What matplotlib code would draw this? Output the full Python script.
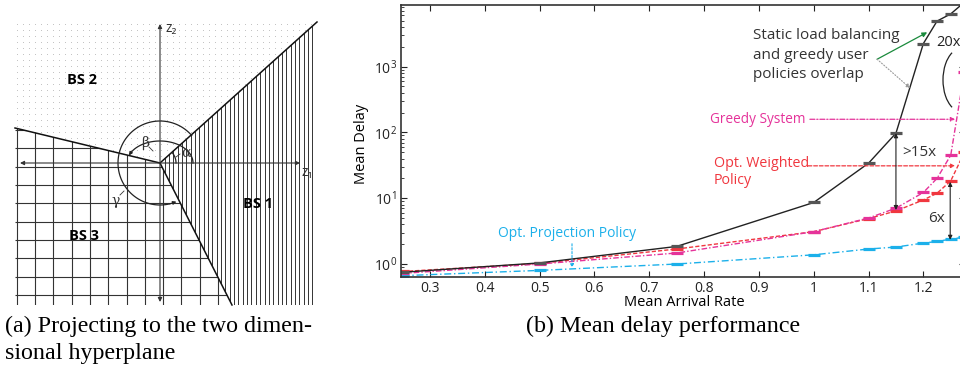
import numpy as np
import matplotlib
matplotlib.use('Agg')
import matplotlib.pyplot as plt
from matplotlib.patches import Polygon, Arc
from matplotlib.collections import LineCollection

plt.rcParams['font.family'] = ['Open Sans', 'DejaVu Sans']
plt.rcParams['mathtext.fontset'] = 'custom'
plt.rcParams['mathtext.rm'] = 'Open Sans'
plt.rcParams['mathtext.default'] = 'regular'

# ---- data for panel (b) ----
rate = [0.25, 0.5, 0.75, 1.0, 1.1, 1.15, 1.2, 1.225, 1.25, 1.275]
delay_static = [0.75, 1.04, 1.85, 8.6, 34, 97, 2230, 4900, 6300, 9500]
delay_greedy = [0.72, 1.0, 1.47, 3.1, 5.0, 7.05, 12.2, 20, 45, 830]
delay_weighted = [0.77, 1.02, 1.69, 3.1, 4.9, 6.4, 9.4, 11.9, 18.3, 50]
delay_projection = [0.665, 0.8, 1.0, 1.38, 1.69, 1.81, 2.08, 2.2, 2.39, 2.56]
xticks = [0.3, 0.4, 0.5, 0.6, 0.7, 0.8, 0.9, 1.0, 1.1, 1.2]
xtick_labels = ['0.3', '0.4', '0.5', '0.6', '0.7', '0.8', '0.9', '1', '1.1', '1.2']

c_black = '#222222'
c_mag = '#e5339a'
c_red = '#f0373f'
c_cyan = '#1cb0ea'

W, H = 960, 375
fig = plt.figure(figsize=(9.6, 3.75), dpi=100)

# ---- panel (b): mean delay ----
ax = fig.add_axes([401 / W, (H - 277) / H, 564 / W, 272 / H])
ax.set_yscale('log')
ax.set_xlim(0.247, 1.276)
ax.set_ylim(0.635, 8600)

ax.plot(rate, delay_projection, color=c_cyan, lw=1, dashes=(5, 2, 1, 2),
        marker='_', ms=9, mew=2.3)
ax.plot(rate, delay_weighted, color=c_red, lw=1, dashes=(3, 1.5),
        marker='_', ms=9, mew=2.3)
ax.plot(rate, delay_greedy, color=c_mag, lw=1, dashes=(4, 1.5, 1, 1.5),
        marker='_', ms=9, mew=2.3)
ax.plot(rate, delay_static, color=c_black, lw=1,
        marker='_', ms=9, mew=2.3, mec='#555555')

ax.set_xticks(xticks)
ax.set_xticklabels(xtick_labels)
ax.tick_params(which='both', direction='in', top=True, right=True,
               labelsize=10, colors='#222222', pad=3)
ax.tick_params(which='major', length=4)
ax.tick_params(which='minor', length=2)
for s in ax.spines.values():
    s.set_linewidth(1.2)
    s.set_color('#333333')
ax.set_xlabel('Mean Arrival Rate', fontsize=10.5)
ax.set_ylabel('Mean Delay', fontsize=10.5)
ax.xaxis.set_label_coords(0.502, -0.068)
ax.yaxis.set_label_coords(-0.057, 0.489)

# annotations
ax.text(0.889, 1480, 'Static load balancing\nand greedy user\npolicies overlap',
        fontsize=11, color='#333333', ha='left', va='center', linespacing=1.42)
ax.annotate('', xy=(1.207, 3310), xytext=(1.1156, 1290),
            arrowprops=dict(arrowstyle='-|>', color='#1a8a3c', lw=0.9,
                            mutation_scale=7, shrinkA=0, shrinkB=0))
ax.annotate('', xy=(1.176, 469), xytext=(1.1156, 1290),
            arrowprops=dict(arrowstyle='-|>', color='#999999', lw=0.8, ls=':',
                            mutation_scale=6, shrinkA=0, shrinkB=0))

ax.text(0.811, 158, 'Greedy System', fontsize=9.8, color=c_mag,
        ha='left', va='center')
ax.annotate('', xy=(1.258, 158), xytext=(0.993, 158),
            arrowprops=dict(arrowstyle='-|>', color=c_mag, lw=0.9,
                            ls=(0, (4, 1.5, 1, 1.5)), mutation_scale=6,
                            shrinkA=0, shrinkB=0))

ax.text(0.818, 25, 'Opt. Weighted\nPolicy', fontsize=10.3, color=c_red,
        ha='left', va='center', linespacing=1.25)
ax.annotate('', xy=(1.258, 31), xytext=(0.9897, 31),
            arrowprops=dict(arrowstyle='-|>', color=c_red, lw=0.9,
                            ls=(0, (3, 1.5)), mutation_scale=6,
                            shrinkA=0, shrinkB=0))

ax.text(1.161, 50, '>15x', fontsize=11, color='#333333', ha='left', va='center')
ax.annotate('', xy=(1.15, delay_static[5]), xytext=(1.15, 6.6),
            arrowprops=dict(arrowstyle='<|-|>', color='#222222', lw=0.8,
                            mutation_scale=6, shrinkA=0, shrinkB=0))
ax.text(1.209, 5.0, '6x', fontsize=11, color='#333333', ha='left', va='center')
ax.annotate('', xy=(1.249, 17.7), xytext=(1.249, 2.33),
            arrowprops=dict(arrowstyle='<|-|>', color='#222222', lw=0.8,
                            mutation_scale=6, shrinkA=0, shrinkB=0))
ax.text(1.2235, 2335, '20x', fontsize=10.5, color='#222222', ha='left', va='center',
        clip_on=False)

ax.text(0.424, 2.88, 'Opt. Projection Policy', fontsize=10, color=c_cyan,
        ha='left', va='center')
ax.annotate('', xy=(0.559, 0.88), xytext=(0.559, 2.03),
            arrowprops=dict(arrowstyle='-|>', color=c_cyan, lw=0.8,
                            ls=(0, (2, 1.5)), mutation_scale=5,
                            shrinkA=0, shrinkB=0))

# ---- overlay in pixel coordinates: panel (a) and captions ----
ov = fig.add_axes([0, 0, 1, 1])
ov.set_xlim(0, W)
ov.set_ylim(H, 0)
ov.axis('off')
ov.patch.set_alpha(0)
ov.set_zorder(3)

O = (160, 163)
tr = (317, 22)   # BS1/BS2 boundary end
lf = (15, 128)   # BS2/BS3 boundary end
bt = (232, 305)  # BS1/BS3 boundary end
top, bot, left, right = 22, 305, 15, 317

poly2 = Polygon([O, lf, (left, top), tr], closed=True, fc='none', ec='none')
poly1 = Polygon([O, tr, (right, bot), bt], closed=True, fc='none', ec='none')
poly3 = Polygon([O, bt, (left, bot), lf], closed=True, fc='none', ec='none')
for p in (poly1, poly2, poly3):
    ov.add_patch(p)

# BS2 dots
gx, gy = np.meshgrid(np.arange(17, right, 6.0), np.arange(24, 170, 6.0))
dots = ov.scatter(gx.ravel(), gy.ravel(), s=0.25, c='#a0a0a0', lw=0)
dots.set_clip_path(poly2)

# BS1 vertical lines
xs = np.arange(164.5, right + 1, 4.35)
lc1 = LineCollection([[(x, top), (x, bot)] for x in xs], colors='#333333', lw=0.7)
ov.add_collection(lc1)
lc1.set_clip_path(poly1)

# BS3 grid
vx = np.arange(16.7, 240, 18.3)
hy = np.arange(129.8, bot + 1, 18.35)
segs = [[(x, 100), (x, bot)] for x in vx] + [[(left, y), (240, y)] for y in hy]
lc3 = LineCollection(segs, colors='#333333', lw=0.8)
ov.add_collection(lc3)
lc3.set_clip_path(poly3)

# boundaries
for end in (tr, lf, bt):
    ov.plot([O[0], end[0]], [O[1], end[1]], color='#111111', lw=1.1)

# axes arrows
ov.annotate('', xy=(300, 163), xytext=(20, 163),
            arrowprops=dict(arrowstyle='<|-|>', color='#333333', lw=0.8,
                            mutation_scale=6, shrinkA=0, shrinkB=0))
ov.annotate('', xy=(160, 24), xytext=(160, 302),
            arrowprops=dict(arrowstyle='<|-|>', color='#333333', lw=0.8,
                            mutation_scale=6, shrinkA=0, shrinkB=0))
ov.text(165, 29, 'z₂', fontsize=10, color='#333333', ha='left', va='center')
ov.text(302, 172, 'z₁', fontsize=10, color='#333333', ha='left', va='center')

ov.text(82, 80, 'BS 2', fontsize=10.5, fontweight='bold', ha='center', va='center')
ov.text(258, 204, 'BS 1', fontsize=10.5, fontweight='bold', ha='center', va='center')
ov.text(84, 236, 'BS 3', fontsize=10.5, fontweight='bold', ha='center', va='center')


def arc_pts(r, t1, t2, n=80):
    t = np.radians(np.linspace(t1, t2, n))
    return O[0] + r * np.cos(t), O[1] - r * np.sin(t)


# gamma arc (big)
ax_, ay_ = arc_pts(42, 41, 293)
ov.plot(ax_[:-3], ay_[:-3], color='#222222', lw=0.9)
ov.annotate('', xy=(ax_[-1], ay_[-1]), xytext=(ax_[-4], ay_[-4]),
            arrowprops=dict(arrowstyle='-|>', color='#222222', lw=0.8,
                            mutation_scale=5, shrinkA=0, shrinkB=0))
# beta arc
bx, by = arc_pts(22, 0, 160)
bx = O[0] + (bx - O[0]) * 1.5
ov.plot(bx[:-3], by[:-3], color='#222222', lw=0.9)
ov.annotate('', xy=(bx[-1], by[-1]), xytext=(bx[-4], by[-4]),
            arrowprops=dict(arrowstyle='-|>', color='#222222', lw=0.8,
                            mutation_scale=5, shrinkA=0, shrinkB=0))
# alpha arc
cx, cy = arc_pts(16, 0, 40)
ov.plot(cx, cy, color='#222222', lw=0.9)

ov.text(145, 143, 'β', fontsize=10, color='#333333', ha='center', va='center',
        family='DejaVu Serif')
ov.plot([149, 153], [147, 151], color='#333333', lw=0.6)
ov.text(186, 153, 'α', fontsize=10, color='#333333', ha='center', va='center',
        family='DejaVu Serif')
ov.plot([176, 180], [157, 154], color='#333333', lw=0.6)
ov.text(116, 201, 'γ', fontsize=10, color='#333333', ha='center', va='center',
        family='DejaVu Serif')
ov.plot([120, 124], [195, 191], color='#333333', lw=0.6)

# "20x" bracket arc
ov.add_patch(Arc((962, 80), 38, 64, theta1=110, theta2=250, color='#222222', lw=0.9))

# captions
ov.text(5, 326, '(a) Projecting to the two dimen-', family='Liberation Serif',
        fontsize=17.3, ha='left', va='center')
ov.text(5, 353, 'sional hyperplane', family='Liberation Serif',
        fontsize=17.3, ha='left', va='center')
ov.text(663, 326, '(b) Mean delay performance', family='Liberation Serif',
        fontsize=17.3, ha='center', va='center')

fig.savefig('out.png', dpi=100)
